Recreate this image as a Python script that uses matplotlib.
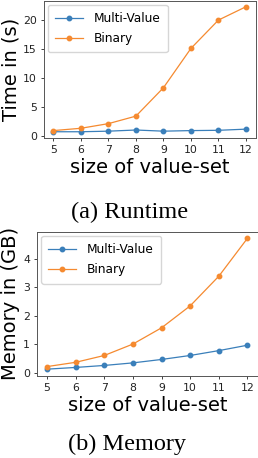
import matplotlib
matplotlib.use("Agg")
import matplotlib.pyplot as plt

sizes = [5, 6, 7, 8, 9, 10, 11, 12]
runtime_multi = [0.7, 0.7, 0.8, 1.0, 0.8, 0.9, 0.95, 1.15]
runtime_binary = [0.9, 1.3, 2.1, 3.4, 8.3, 15.1, 20.0, 22.3]
memory_multi = [0.13, 0.19, 0.26, 0.35, 0.47, 0.61, 0.78, 0.97]
memory_binary = [0.22, 0.37, 0.61, 1.01, 1.58, 2.35, 3.39, 4.72]
labels = ["Multi-Value", "Binary"]
colors = ["#3a7fba", "#f58a30"]

W, H = 258, 458
fig = plt.figure(figsize=(W / 100, H / 100), dpi=100)

def px_axes(l, t, r, b):
    return fig.add_axes([l / W, 1 - b / H, (r - l) / W, (b - t) / H])

ax1 = px_axes(43.7, 0.5, 255.6, 138.0)
ax2 = px_axes(37.0, 231.7, 257.5, 375.7)

for ax, m, b, ylab, yt in [
    (ax1, runtime_multi, runtime_binary, "Time in (s)", [0, 5, 10, 15, 20]),
    (ax2, memory_multi, memory_binary, "Memory in (GB)", [0, 1, 2, 3, 4]),
]:
    ax.plot(sizes, m, marker="o", markersize=3.2, linewidth=0.9, color=colors[0], label=labels[0])
    ax.plot(sizes, b, marker="o", markersize=3.2, linewidth=0.9, color=colors[1], label=labels[1])
    ax.set_xticks(sizes)
    ax.set_yticks(yt)
    ax.tick_params(labelsize=7.8, length=2.5, width=0.6, pad=2.5, colors="#222222")
    ax.set_xlabel("size of value-set", fontsize=14, labelpad=2.5)
    ax.set_ylabel(ylab, fontsize=14, labelpad=2)
    for s in ax.spines.values():
        s.set_linewidth(0.7)
        s.set_color("#555555")
    ax.legend(loc="upper left", fontsize=8.7, handlelength=2.3, borderpad=0.6,
              labelspacing=0.6, handletextpad=0.9, borderaxespad=0.35)

fig.text(130 / W, 1 - 212 / H, "(a) Runtime", family="Liberation Serif", fontsize=17.5,
         ha="center", va="center")
fig.text(127.5 / W, 1 - 444 / H, "(b) Memory", family="Liberation Serif", fontsize=17.5,
         ha="center", va="center")

fig.savefig("out.png", dpi=100)
